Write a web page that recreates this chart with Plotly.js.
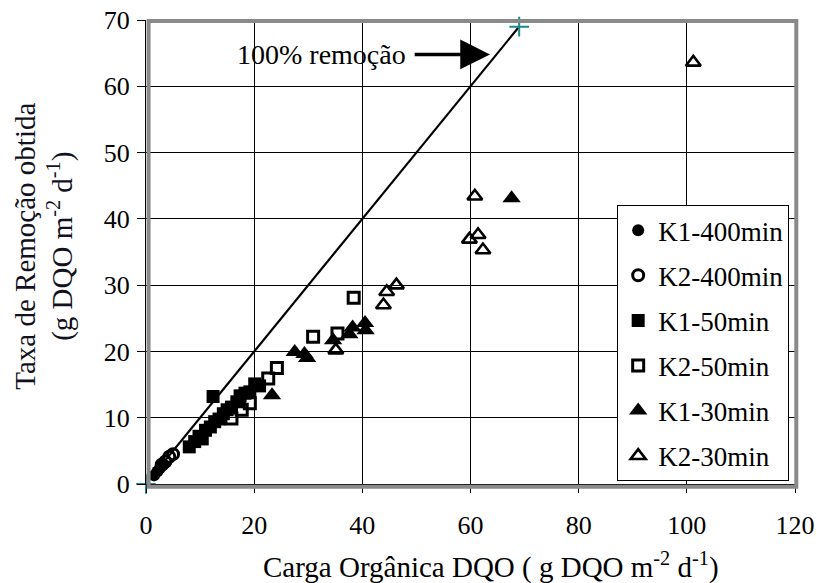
<!DOCTYPE html>
<html>
<head>
<meta charset="utf-8">
<script src="https://cdn.plot.ly/plotly-3.0.1.min.js"></script>
<style>
  html, body { margin: 0; padding: 0; background: #fff; }
  #chart { width: 817px; height: 583px; }
</style>
</head>
<body>
<div id="chart"></div>
<script>
// Removal rate vs. organic load (g DQO m-2 d-1) for reactors K1/K2 at three HRTs
const k1_400_x = [1.5, 2.1, 2.6, 3.2];
const k1_400_y = [1.3, 1.9, 2.4, 2.9];
const k2_400_x = [2.9, 3.6, 4.3, 5.0];
const k2_400_y = [2.9, 3.4, 4.1, 4.5];

const k1_50_x = [8.0, 9.0, 9.8, 10.4, 11.0, 11.9, 12.4, 12.7, 13.5, 14.3, 15.0, 15.8, 16.8, 17.4, 18.3, 19.2, 20.1, 21.0];
const k1_50_y = [5.6, 6.4, 7.2, 6.8, 8.1, 8.6, 13.2, 9.4, 9.8, 10.6, 11.2, 11.6, 12.4, 13.3, 13.7, 13.9, 15.1, 14.8];
const k2_50_x = [15.8, 17.7, 19.2, 22.6, 24.2, 30.9, 35.4, 38.4];
const k2_50_y = [9.9, 11.2, 12.2, 15.9, 17.5, 22.2, 22.7, 28.1];

const k1_30_x = [23.3, 27.5, 29.3, 29.8, 34.6, 37.6, 38.2, 40.5, 40.6, 67.6];
const k1_30_y = [13.4, 19.9, 19.6, 19.0, 21.7, 22.6, 23.6, 24.3, 23.2, 43.1];
const k2_30_x = [35.1, 43.9, 44.5, 46.3, 59.8, 61.4, 62.3, 60.8, 101.2];
const k2_30_y = [20.2, 27.0, 29.0, 30.0, 36.9, 37.6, 35.3, 43.4, 63.6];

// 100% removal reference line (y = x)
const ref_x = [0, 69];
const ref_y = [0, 69];

const xTicks = [0, 20, 40, 60, 80, 100, 120];
const yTicks = [0, 10, 20, 30, 40, 50, 60, 70];

const serif = 'Liberation Serif, Times New Roman, serif';

function series(name, x, y, symbol, size, lw) {
  return {
    type: 'scatter', mode: 'markers', name: name, x: x, y: y,
    legendgroup: name,
    marker: { symbol: symbol, size: size, color: 'black', line: { color: 'black', width: lw } }
  };
}

const traces = [
  {
    type: 'scatter', mode: 'lines+markers', x: ref_x, y: ref_y, showlegend: false,
    line: { color: 'black', width: 2.2 }, cliponaxis: false,
    marker: { symbol: 'cross-thin-open', size: 14, color: '#1b8a8a', line: { color: '#1b8a8a', width: 2 } },
    hoverinfo: 'skip'
  },
  series('K1-400min', k1_400_x, k1_400_y, 'circle', 12, 0),
  series('K2-400min', k2_400_x, k2_400_y, 'circle-open', 11, 3),
  series('K1-50min', k1_50_x, k1_50_y, 'square', 13, 0),
  series('K2-50min', k2_50_x, k2_50_y, 'square-open', 11, 3),
  series('K1-30min', k1_30_x, k1_30_y, 'triangle-up', 16, 0),
  series('K2-30min', k2_30_x, k2_30_y, 'triangle-up-open', 13, 2.6)
];

const axisCommon = {
  showgrid: true, gridcolor: 'black', gridwidth: 1,
  zeroline: false, showline: true, linecolor: 'black', linewidth: 1,
  ticks: 'outside', ticklen: 8, tickcolor: 'black', tickwidth: 1,
  tickfont: { family: serif, size: 26, color: 'black' }
};

const layout = {
  width: 817, height: 583,
  margin: { l: 146, r: 22, t: 20, b: 99 },
  paper_bgcolor: 'white', plot_bgcolor: 'white',
  showlegend: true,
  xaxis: Object.assign({}, axisCommon, {
    range: [0, 120], tickvals: xTicks, ticklabelstandoff: 10
  }),
  yaxis: Object.assign({}, axisCommon, {
    range: [0, 70], tickvals: yTicks, ticklabelstandoff: 2
  }),
  legend: {
    x: 0.726, y: 0.601, xanchor: 'left', yanchor: 'top',
    bgcolor: 'white', bordercolor: 'black', borderwidth: 1,
    font: { family: serif, size: 27, color: 'black' },
    traceorder: 'grouped', tracegroupgap: 7
  },
  shapes: [{
    type: 'rect', xref: 'paper', yref: 'paper',
    x0: 0.004, x1: 1.002, y0: -0.006, y1: 0.998,
    line: { color: '#8a8a8a', width: 4 }, layer: 'above'
  }],
  annotations: [
    {
      xref: 'x', yref: 'y', x: 32.4, y: 64.8, text: '100% remoção', showarrow: false,
      font: { family: serif, size: 28, color: 'black' }
    },
    {
      xref: 'x', yref: 'y', axref: 'x', ayref: 'y',
      x: 63.6, y: 64.8, ax: 49.4, ay: 64.8, text: '', showarrow: true,
      arrowhead: 2, arrowsize: 1.7, arrowwidth: 3.5, arrowcolor: 'black'
    },
    {
      xref: 'paper', yref: 'paper', x: 0.532, y: -0.175, xanchor: 'center', yanchor: 'middle',
      text: 'Carga Orgânica DQO ( g DQO m<sup>-2</sup> d<sup>-1</sup>)', showarrow: false,
      font: { family: serif, size: 29, color: 'black' }
    },
    {
      xref: 'paper', yref: 'paper', x: -0.156, y: 0.513, xanchor: 'center', yanchor: 'middle',
      textangle: -90,
      text: 'Taxa de Remoção obtida<br>(g DQO m<sup>-2</sup> d<sup>-1</sup>)', showarrow: false,
      font: { family: serif, size: 29, color: '#111122' }
    }
  ]
};

Plotly.newPlot('chart', traces, layout, { displayModeBar: false, staticPlot: true });
</script>
</body>
</html>
